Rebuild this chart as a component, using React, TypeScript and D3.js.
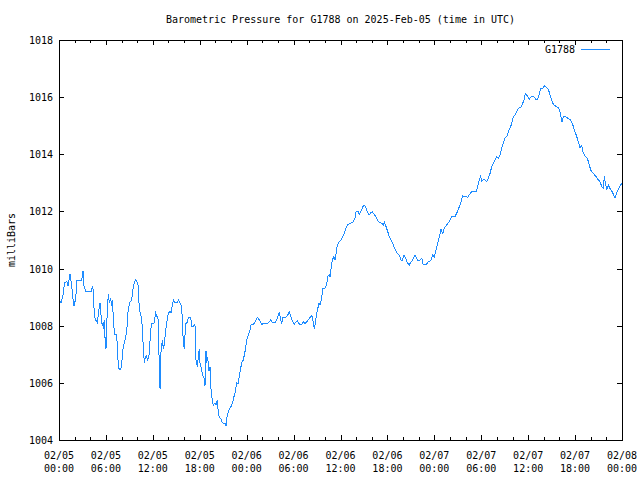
import React from "react";
import * as d3 from "d3";

const title = "Barometric Pressure for G1788 on 2025-Feb-05 (time in UTC)";
const yLabel = "milliBars";
const seriesName = "G1788";
const startTime = "2025-02-05T00:00:00Z";
const endTime = "2025-02-08T00:00:00Z";
const yDomain = [1004, 1018];
const yTicks = [1004, 1006, 1008, 1010, 1012, 1014, 1016, 1018];

// hours since 2025-02-05 00:00 UTC
const hours = [
  0, 0.26, 0.55, 0.7, 1.02, 1.15, 1.41, 1.5, 1.66, 1.79, 1.92, 2.14, 2.3, 2.9, 3.07, 3.2, 3.41, 4.18, 4.26, 4.39,
  4.51, 4.69, 4.9, 5.12, 5.24, 5.46, 5.67, 5.79, 5.88, 6.01, 6.18, 6.31, 6.43, 6.61, 6.74, 6.87, 6.94, 7.16, 7.38, 7.51,
  7.67, 7.89, 8.02, 8.22, 8.44, 8.66, 8.86, 9.08, 9.3, 9.5, 9.76, 9.94, 10.14, 10.27, 10.58, 10.65, 10.78, 10.91, 11.04, 11.22,
  11.29, 11.47, 11.57, 11.7, 11.86, 12.15, 12.37, 12.57, 12.7, 12.83, 12.92, 13.05, 13.21, 13.34, 13.47, 13.65, 13.77, 13.98, 14.2, 14.32,
  14.49, 14.62, 14.84, 15.09, 15.26, 15.48, 15.69, 15.77, 15.9, 16.03, 16.11, 16.24, 16.41, 16.54, 16.84, 16.97, 17.18, 17.3, 17.43, 17.52,
  17.69, 17.82, 17.94, 18.03, 18.25, 18.38, 18.54, 18.67, 18.8, 18.89, 19.02, 19.15, 19.31, 19.44, 19.57, 19.73, 19.95, 20.08, 20.25, 20.37,
  20.5, 20.68, 20.88, 21.23, 21.36, 21.52, 21.74, 22.0, 22.22, 22.38, 22.55, 22.73, 22.89, 23.06, 23.24, 23.37, 23.57, 23.79, 24.01, 24.21,
  24.43, 24.56, 24.85, 25.07, 25.36, 25.62, 25.92, 26.22, 26.47, 26.77, 27.07, 27.33, 27.62, 27.84, 28.05, 28.17, 28.35, 28.48, 28.61, 29.03,
  29.25, 29.45, 29.67, 29.89, 30.09, 30.31, 30.48, 30.73, 31.04, 31.24, 31.46, 31.68, 31.88, 32.1, 32.32, 32.45, 32.52, 32.65, 32.78, 32.96,
  33.09, 33.25, 33.38, 33.6, 33.72, 34.02, 34.24, 34.36, 34.57, 34.7, 34.79, 34.95, 35.17, 35.3, 35.52, 35.59, 35.85, 36.07, 36.28, 36.49,
  36.71, 36.92, 37.22, 37.43, 37.64, 37.86, 37.98, 38.28, 38.41, 38.71, 38.92, 39.14, 39.35, 39.56, 39.68, 39.86, 40.07, 40.29, 40.5, 40.71,
  40.96, 41.27, 41.48, 41.6, 41.82, 42.04, 42.24, 42.55, 42.75, 43.01, 43.27, 43.52, 43.74, 43.91, 44.12, 44.34, 44.55, 44.8, 45.02, 45.24,
  45.44, 45.53, 45.66, 45.88, 46.17, 46.39, 46.59, 46.94, 47.23, 47.54, 47.79, 48.0, 48.22, 48.43, 48.64, 48.85, 49.07, 49.28, 49.58, 49.92,
  50.22, 50.65, 50.94, 51.2, 51.41, 51.63, 51.92, 52.27, 52.56, 52.78, 53.33, 53.55, 53.75, 53.93, 54.06, 54.27, 54.48, 54.7, 54.9, 55.12,
  55.34, 55.54, 55.76, 55.98, 56.18, 56.4, 56.61, 56.82, 57.04, 57.26, 57.46, 57.68, 57.9, 58.1, 58.32, 58.54, 58.74, 59.05, 59.3, 59.47,
  59.64, 59.89, 60.15, 60.33, 60.58, 60.79, 61.0, 61.22, 61.43, 61.61, 61.86, 62.07, 62.37, 62.58, 62.8, 63.01, 63.22, 63.56, 63.86, 64.07,
  64.2, 64.33, 64.5, 64.8, 65.06, 65.35, 65.57, 65.78, 65.99, 66.21, 66.41, 66.63, 66.85, 66.98, 67.27, 67.57, 67.82, 68.0, 68.33, 68.68,
  68.97, 69.19, 69.41, 69.61, 69.74, 69.92, 70.05, 70.24, 70.46, 70.68, 70.89, 71.11, 71.32, 71.53, 71.84, 72.0,
];

const pressure = [
  1008.9, 1008.8, 1009.13, 1009.5, 1009.55, 1009.4, 1009.8, 1009.65, 1009.3, 1008.95, 1008.7, 1008.95, 1009.6, 1009.6, 1009.9, 1009.4, 1009.2, 1009.2, 1009.4, 1009.25,
  1008.37, 1008.2, 1008.1, 1008.6, 1008.8, 1008.1, 1007.96, 1008.2, 1007.6, 1007.2, 1008.6, 1009.1, 1008.8, 1008.97, 1008.7, 1008.9, 1008.1, 1007.7, 1007.7, 1006.9,
  1006.5, 1006.45, 1006.7, 1007.27, 1007.5, 1007.8, 1008.6, 1008.84, 1008.9, 1009.37, 1009.6, 1009.55, 1009.4, 1008.55, 1008.27, 1007.9, 1007.27, 1006.7, 1006.9, 1006.95,
  1006.8, 1006.9, 1007.1, 1007.8, 1008.08, 1008.08, 1008.44, 1008.3, 1008.2, 1006.45, 1005.8, 1007.1, 1007.5, 1007.2, 1007.35, 1007.85, 1008.1, 1008.44, 1008.5, 1008.44,
  1008.7, 1008.9, 1008.8, 1008.8, 1008.9, 1008.8, 1008.67, 1008.2, 1007.4, 1007.2, 1007.67, 1008.08, 1008.12, 1008.3, 1008.3, 1007.97, 1007.97, 1008.03, 1007.97, 1006.8,
  1006.57, 1006.9, 1007.2, 1006.7, 1006.45, 1006.27, 1006.17, 1005.9, 1007.1, 1006.7, 1006.9, 1006.4, 1006.55, 1005.8, 1005.47, 1005.22, 1005.3, 1005.22, 1005.4, 1004.94,
  1004.8, 1004.75, 1004.6, 1004.58, 1004.49, 1004.87, 1005.05, 1005.17, 1005.34, 1005.52, 1005.69, 1006.0, 1005.95, 1006.22, 1006.52, 1006.7, 1006.8, 1007.1, 1007.5, 1007.67,
  1007.85, 1008.03, 1008.03, 1008.14, 1008.29, 1008.2, 1008.05, 1008.08, 1008.08, 1008.1, 1008.2, 1008.1, 1008.1, 1008.2, 1008.37, 1008.49, 1008.2, 1008.08, 1008.3, 1008.3,
  1008.37, 1008.49, 1008.3, 1008.14, 1008.06, 1008.14, 1008.17, 1008.06, 1008.03, 1008.14, 1008.08, 1008.14, 1008.2, 1008.29, 1008.37, 1008.2, 1008.1, 1007.9, 1008.1, 1008.43,
  1008.6, 1008.78, 1008.72, 1008.96, 1009.31, 1009.31, 1009.43, 1009.72, 1009.78, 1009.7, 1010.0, 1010.3, 1010.42, 1010.3, 1010.65, 1010.83, 1010.94, 1011.0, 1011.12, 1011.24,
  1011.41, 1011.53, 1011.59, 1011.6, 1011.64, 1011.76, 1011.99, 1011.99, 1011.9, 1012.05, 1012.2, 1012.19, 1012.05, 1011.93, 1011.88, 1011.96, 1011.99, 1011.9, 1011.82, 1011.7,
  1011.62, 1011.59, 1011.53, 1011.62, 1011.47, 1011.29, 1011.12, 1010.94, 1010.83, 1010.65, 1010.53, 1010.47, 1010.3, 1010.3, 1010.47, 1010.35, 1010.2, 1010.13, 1010.24, 1010.3,
  1010.44, 1010.47, 1010.4, 1010.3, 1010.3, 1010.36, 1010.13, 1010.13, 1010.24, 1010.27, 1010.47, 1010.41, 1010.65, 1010.88, 1011.12, 1011.37, 1011.23, 1011.41, 1011.53, 1011.64,
  1011.82, 1011.82, 1011.99, 1012.17, 1012.34, 1012.54, 1012.52, 1012.5, 1012.61, 1012.69, 1012.69, 1012.87, 1013.1, 1013.24, 1013.05, 1013.12, 1013.1, 1013.05, 1013.16, 1013.33,
  1013.57, 1013.68, 1013.8, 1013.92, 1013.86, 1013.98, 1014.21, 1014.38, 1014.56, 1014.62, 1014.79, 1014.91, 1015.08, 1015.32, 1015.38, 1015.49, 1015.61, 1015.64, 1015.78, 1015.9,
  1016.13, 1016.04, 1015.92, 1016.0, 1016.04, 1016.0, 1015.92, 1015.92, 1016.11, 1016.31, 1016.31, 1016.4, 1016.33, 1016.27, 1016.08, 1015.9, 1015.75, 1015.67, 1015.64, 1015.49,
  1015.32, 1015.14, 1015.32, 1015.32, 1015.26, 1015.22, 1015.14, 1014.97, 1014.79, 1014.62, 1014.44, 1014.24, 1014.32, 1014.09, 1013.94, 1013.86, 1013.63, 1013.45, 1013.33, 1013.22,
  1013.1, 1013.04, 1012.87, 1012.81, 1013.22, 1012.93, 1012.75, 1012.93, 1012.81, 1012.72, 1012.61, 1012.46, 1012.65, 1012.77, 1012.93, 1012.97,
];

const W = 640;
const H = 480;
const M = { left: 59, right: 622, top: 40, bottom: 440 };
const FONT = "'DejaVu Sans Mono', monospace";
const LINE_COLOR = "#1e8cff";

export default function App() {
  const t0 = new Date(startTime);
  const t1 = new Date(endTime);
  const x = d3.scaleUtc().domain([t0, t1]).range([M.left, M.right]);
  const y = d3.scaleLinear().domain(yDomain).range([M.bottom, M.top]);

  const data = hours.map((h, i) => ({ t: new Date(t0.getTime() + h * 3600000), v: pressure[i] }));
  const line = d3
    .line<{ t: Date; v: number }>()
    .x((d) => x(d.t))
    .y((d) => y(d.v));

  const xTicks = d3.utcHour.every(2)!.range(t0, new Date(t1.getTime() + 1));
  const fmtDate = d3.utcFormat("%m/%d");
  const fmtTime = d3.utcFormat("%H:%M");
  const isMajor = (d: Date) => d.getUTCHours() % 6 === 0;

  return (
    <svg
      width={W}
      height={H}
      style={{ position: "absolute", left: 0, top: 0, background: "#fff" }}
      fontFamily={FONT}
      fontSize={10}
    >
      <rect x={0} y={0} width={W} height={H} fill="#fff" />
      <text x={(M.left + M.right) / 2} y={23} textAnchor="middle" fill="#000">
        {title}
      </text>
      <text
        transform={`translate(15,${(M.top + M.bottom) / 2}) rotate(-90)`}
        textAnchor="middle"
        fill="#000"
      >
        {yLabel}
      </text>

      <g shapeRendering="crispEdges" stroke="#000" strokeWidth={1}>
        {yTicks.map((v) => (
          <g key={v}>
            <line x1={M.left} x2={M.left + 5} y1={Math.round(y(v)) + 0.5} y2={Math.round(y(v)) + 0.5} />
            <line x1={M.right - 5} x2={M.right} y1={Math.round(y(v)) + 0.5} y2={Math.round(y(v)) + 0.5} />
          </g>
        ))}
        {xTicks.map((d) => {
          const xx = Math.round(x(d)) + 0.5;
          const len = isMajor(d) ? 5 : 3;
          return (
            <g key={d.getTime()}>
              <line x1={xx} x2={xx} y1={M.bottom} y2={M.bottom - len} />
              <line x1={xx} x2={xx} y1={M.top} y2={M.top + len} />
            </g>
          );
        })}
      </g>

      {yTicks.map((v) => (
        <text key={v} x={M.left - 6} y={y(v) + 4} textAnchor="end" fill="#000">
          {v}
        </text>
      ))}
      {xTicks.filter(isMajor).map((d) => (
        <g key={d.getTime()}>
          <text x={x(d)} y={459} textAnchor="middle" fill="#000">
            {fmtDate(d)}
          </text>
          <text x={x(d)} y={472} textAnchor="middle" fill="#000">
            {fmtTime(d)}
          </text>
        </g>
      ))}

      <path d={line(data) || ""} fill="none" stroke={LINE_COLOR} strokeWidth={1} shapeRendering="crispEdges" />

      <text x={575} y={53} textAnchor="end" fill="#000">
        {seriesName}
      </text>
      <line x1={581} x2={610} y1={49.5} y2={49.5} stroke={LINE_COLOR} strokeWidth={1} shapeRendering="crispEdges" />

      <rect
        x={M.left + 0.5}
        y={M.top + 0.5}
        width={M.right - M.left}
        height={M.bottom - M.top}
        fill="none"
        stroke="#000"
        strokeWidth={1}
        shapeRendering="crispEdges"
      />
    </svg>
  );
}
